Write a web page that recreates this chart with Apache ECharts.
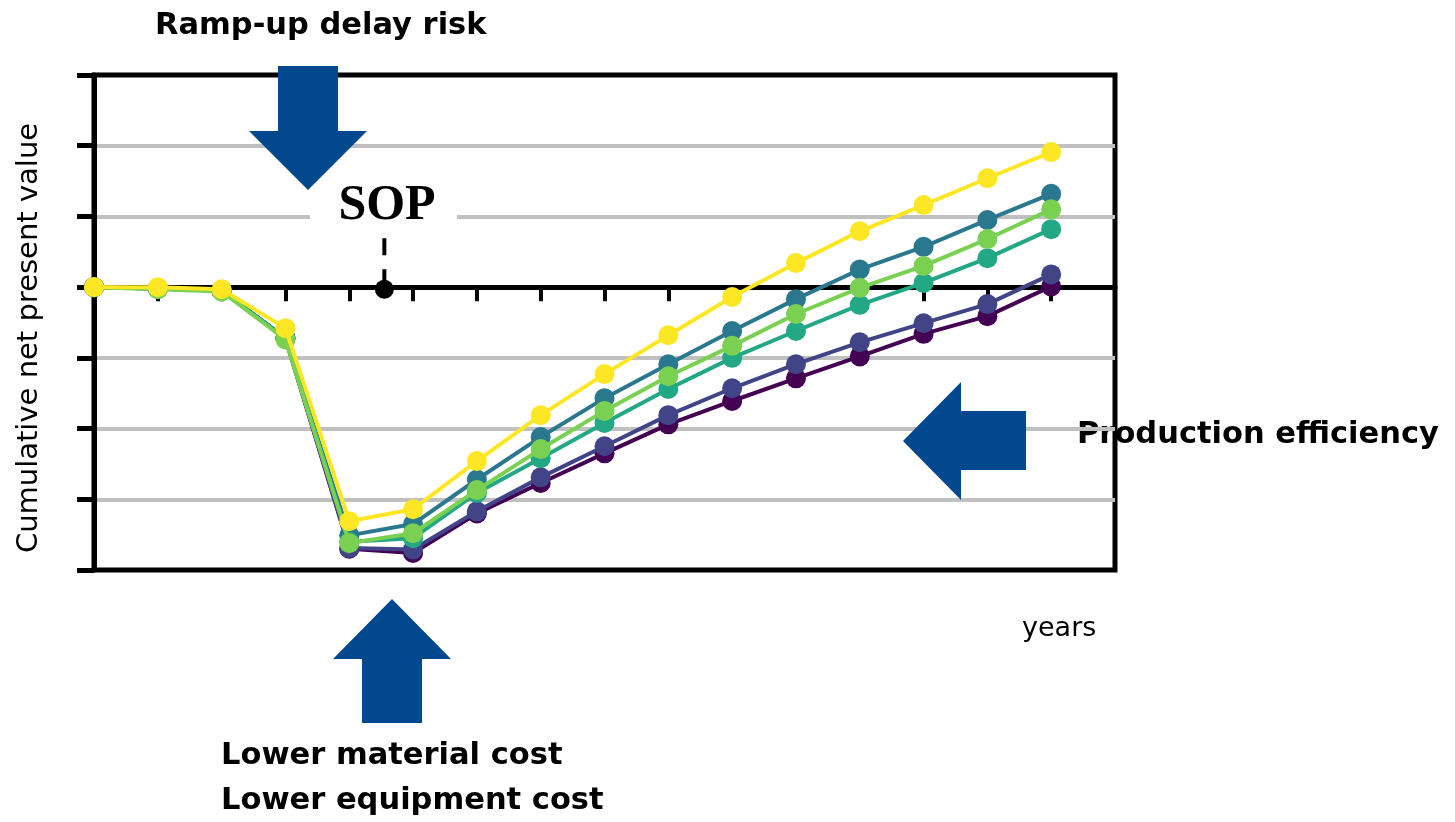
<!DOCTYPE html>
<html>
<head>
<meta charset="utf-8">
<script src="https://cdn.jsdelivr.net/npm/echarts@6/dist/echarts.min.js"></script>
<style>
  html, body { margin: 0; padding: 0; background: #ffffff; }
  #chart { width: 1455px; height: 822px; }
</style>
</head>
<body>
<div id="chart"></div>
<script>
// ---- data ----
const years = [0, 1, 2, 3, 4, 5, 6, 7, 8, 9, 10, 11, 12, 13, 14, 15];
const scenarioNames = ['Scenario 1', 'Scenario 2', 'Scenario 3', 'Scenario 4', 'Scenario 5', 'Scenario 6'];
const scenario1 = [0, -0.02, -0.05, -0.72, -3.70, -3.76, -3.20, -2.77, -2.35, -1.94, -1.61, -1.29, -0.98, -0.66, -0.41, 0.01];
const scenario2 = [0, -0.02, -0.05, -0.72, -3.69, -3.71, -3.17, -2.69, -2.25, -1.81, -1.43, -1.09, -0.78, -0.51, -0.24, 0.18];
const scenario3 = [0, -0.02, -0.05, -0.72, -3.51, -3.35, -2.72, -2.12, -1.57, -1.09, -0.62, -0.17, 0.25, 0.57, 0.95, 1.32];
const scenario4 = [0, -0.02, -0.05, -0.72, -3.60, -3.55, -2.91, -2.42, -1.92, -1.44, -1.00, -0.62, -0.25, 0.06, 0.41, 0.82];
const scenario5 = [0, -0.03, -0.06, -0.74, -3.62, -3.48, -2.87, -2.29, -1.75, -1.26, -0.83, -0.38, -0.01, 0.30, 0.68, 1.10];
const scenario6 = [0, 0, -0.03, -0.58, -3.31, -3.14, -2.46, -1.81, -1.23, -0.68, -0.14, 0.34, 0.79, 1.16, 1.54, 1.91];
const scenarioColors = ['#440154', '#414487', '#2a788e', '#22a884', '#7ad151', '#fde725'];
const sopYear = 4.55;
const sopStem = [0.69, 0.08];
const yAxisTitle = 'Cumulative net present value';
const xAxisTitle = 'years';

const allScenarios = [scenario1, scenario2, scenario3, scenario4, scenario5, scenario6];

const chart = echarts.init(document.getElementById('chart'), null, { renderer: 'canvas' });

const lineSeries = allScenarios.map((vals, i) => ({
  name: scenarioNames[i],
  type: 'line',
  data: years.map((y, k) => [y, vals[k]]),
  symbol: 'circle',
  symbolSize: 20,
  showSymbol: true,
  lineStyle: { color: scenarioColors[i], width: 4 },
  itemStyle: { color: scenarioColors[i], opacity: 1 },
  z: 3 + i,
  animation: false
}));

const blue = '#02488f';
const boldFont = 'bold 30.5px "DejaVu Sans", sans-serif';

const option = {
  animation: false,
  grid: {
    left: 94, right: 340, top: 75, bottom: 252,
    outerBoundsMode: 'none', containLabel: false,
    show: true, borderColor: '#000', borderWidth: 5, backgroundColor: 'transparent'
  },
  xAxis: {
    type: 'value', min: 0, max: 16, interval: 1,
    axisLine: { show: true, onZero: true, lineStyle: { color: '#000', width: 5 } },
    axisTick: { show: true, inside: false, length: 14, lineStyle: { color: '#000', width: 4 } },
    axisLabel: { show: false },
    splitLine: { show: false }
  },
  yAxis: {
    type: 'value', min: -4, max: 3, interval: 1,
    axisLine: { show: true, lineStyle: { color: '#000', width: 5 } },
    axisTick: { show: true, inside: false, length: 17, lineStyle: { color: '#000', width: 5 } },
    axisLabel: { show: false },
    splitLine: { show: true, showMinLine: false, showMaxLine: false, lineStyle: { color: '#c0c0c0', width: 4 } }
  },
  series: lineSeries.concat([
    {
      name: 'SOP stem', type: 'line',
      data: [[sopYear, sopStem[0]], [sopYear, sopStem[1]]],
      symbol: 'none',
      lineStyle: { color: '#000', width: 4, type: [17, 14] },
      z: 2, silent: true
    },
    {
      name: 'SOP', type: 'scatter',
      data: [[sopYear, -0.03]],
      symbol: 'circle', symbolSize: 19,
      itemStyle: { color: '#000', opacity: 1 },
      z: 2, silent: true
    }
  ]),
  graphic: [
    // white box behind SOP label (breaks gridline)
    { type: 'rect', z: 50, shape: { x: 310, y: 192, width: 147, height: 32 }, style: { fill: '#fff' } },
    { type: 'text', z: 60, style: { text: 'SOP', x: 387, y: 206, textAlign: 'center', textVerticalAlign: 'middle',
      font: 'bold 50px "Liberation Serif", "Times New Roman", serif', fill: '#000' } },
    // down arrow
    { type: 'polygon', z: 70, shape: { points: [[278, 66], [338, 66], [338, 131], [367, 131], [308, 190], [249, 131], [278, 131]] }, style: { fill: blue } },
    // up arrow
    { type: 'polygon', z: 70, shape: { points: [[392, 599], [451, 659], [422, 659], [422, 723], [362, 723], [362, 659], [333, 659]] }, style: { fill: blue } },
    // left arrow
    { type: 'polygon', z: 70, shape: { points: [[903, 441], [961, 382], [961, 411], [1026, 411], [1026, 470], [961, 470], [961, 500]] }, style: { fill: blue } },
    { type: 'text', z: 70, style: { text: 'Ramp-up delay risk', x: 155, y: 26, textAlign: 'left', textVerticalAlign: 'middle',
      font: boldFont, fill: '#000' } },
    { type: 'text', z: -10, style: { text: 'Production efficiency', x: 1077, y: 435, textAlign: 'left', textVerticalAlign: 'middle',
      font: boldFont, fill: '#000' } },
    { type: 'text', z: 70, style: { text: 'Lower material cost', x: 221, y: 756, textAlign: 'left', textVerticalAlign: 'middle',
      font: boldFont, fill: '#000' } },
    { type: 'text', z: 70, style: { text: 'Lower equipment cost', x: 221, y: 801, textAlign: 'left', textVerticalAlign: 'middle',
      font: boldFont, fill: '#000' } },
    { type: 'text', z: 70, style: { text: xAxisTitle, x: 1022, y: 629, textAlign: 'left', textVerticalAlign: 'middle',
      font: '27px "DejaVu Sans", sans-serif', fill: '#000' } },
    { type: 'text', z: 70, x: 29, y: 338, rotation: Math.PI / 2,
      style: { text: yAxisTitle, x: 0, y: 0, textAlign: 'center', textVerticalAlign: 'middle',
      font: '29px "DejaVu Sans", sans-serif', fill: '#000' } }
  ]
};

chart.setOption(option);
</script>
</body>
</html>
